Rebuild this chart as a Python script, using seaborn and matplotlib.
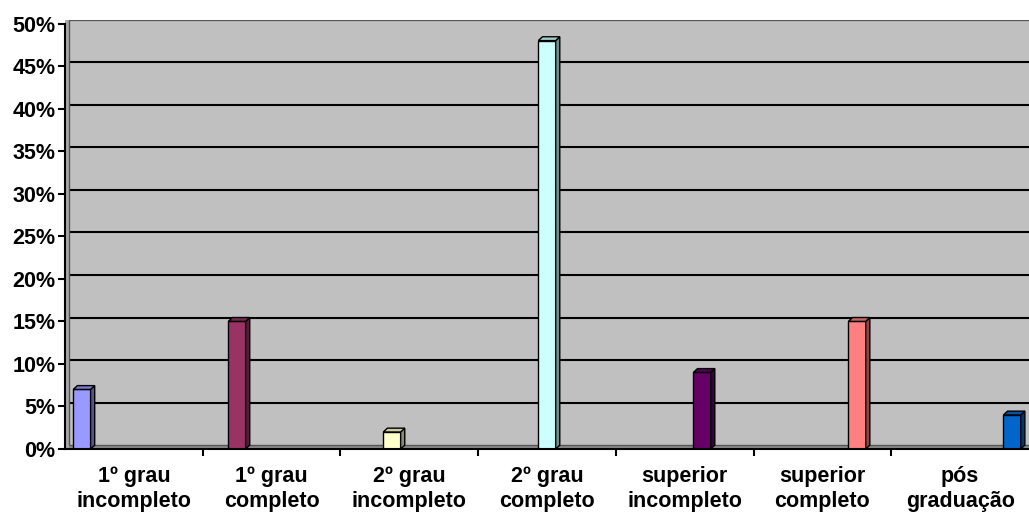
import matplotlib
matplotlib.use("Agg")
import matplotlib.pyplot as plt
import seaborn as sns
import pandas as pd
import numpy as np
from matplotlib.patches import Polygon
import matplotlib.colors as mcolors

categories = ["1º grau\nincompleto", "1º grau\ncompleto", "2º grau\nincompleto",
              "2º grau\ncompleto", "superior\nincompleto", "superior\ncompleto",
              "pós\ngraduação"]
values = [7, 15, 2, 48, 9, 15, 4]
colors = ["#9999FF", "#993366", "#FFFFCC", "#CCFFFF", "#660066", "#FF8080", "#0066CC"]
yticks = [0, 5, 10, 15, 20, 25, 30, 35, 40, 45, 50]

sns.set_style("white")
plt.rcParams['font.family'] = ['Liberation Sans', 'DejaVu Sans']
plt.rcParams['font.weight'] = 'bold'
plt.rcParams['text.color'] = 'black'
plt.rcParams['xtick.color'] = 'black'
plt.rcParams['ytick.color'] = 'black'
plt.rcParams['xtick.labelcolor'] = 'black'
plt.rcParams['ytick.labelcolor'] = 'black'

df = pd.DataFrame({"cat": categories, "val": values})

fig = plt.figure(figsize=(10.29, 5.13), dpi=100)
ax = fig.add_axes([65/1029, (513-449)/513, 1 - 65/1029, (449-19.75)/513])
ax.set_facecolor("#C0C0C0")

dx, dy = 0.03, 0.45

sns.barplot(data=df, x="cat", y="val", hue="cat", hue_order=categories,
            order=categories, palette=colors, saturation=1, dodge=True, width=0.88, gap=0,
            edgecolor="black", linewidth=1, legend=False, ax=ax, zorder=3)

ax.set_xlim(-0.5, 6.5)
ax.set_ylim(0, 50 + dy)

# back-wall gridlines
for t in yticks[1:]:
    ax.hlines(t + dy, -0.5 + dx, 6.5, color="black", lw=1.5, zorder=1)
# floor
ax.fill_between([-0.5, 6.5], 0, dy, color="#8a8a8a", zorder=1.5, lw=0)
ax.hlines(dy, -0.5 + dx, 6.5, color="#555555", lw=1, zorder=1.6)
# left wall
ax.fill_betweenx([0, 50 + dy], -0.5, -0.5 + dx, color="#a8a8a8", zorder=1.5, lw=0)
ax.vlines(-0.5 + dx, dy, 50 + dy, color="#555555", lw=1, zorder=1.6)
ax.hlines(50 + dy, -0.5 + dx, 6.5, color="#555555", lw=1.5, zorder=1.6)

# 3D faces on bars
for p in list(ax.patches):
    h = p.get_height()
    if not np.isfinite(h) or h <= 0:
        continue
    x, w = p.get_x(), p.get_width()
    fc = np.array(mcolors.to_rgb(p.get_facecolor()))
    side = Polygon([(x + w, 0), (x + w + dx, dy), (x + w + dx, h + dy), (x + w, h)],
                   closed=True, facecolor=fc * 0.55, edgecolor="black", lw=1, zorder=3)
    top = Polygon([(x, h), (x + dx, h + dy), (x + w + dx, h + dy), (x + w, h)],
                  closed=True, facecolor=fc * 0.8, edgecolor="black", lw=1, zorder=3)
    ax.add_patch(side)
    ax.add_patch(top)

for s in ["top", "right"]:
    ax.spines[s].set_visible(False)
ax.spines["left"].set_color("black")
ax.spines["left"].set_linewidth(1.5)
ax.spines["left"].set_bounds(0, 50)
ax.spines["bottom"].set_color("black")
ax.spines["bottom"].set_linewidth(1.5)
ax.spines["left"].set_zorder(5)
ax.spines["bottom"].set_zorder(5)

ax.set_yticks(yticks)
ax.set_yticklabels([f"{t}%" for t in yticks], fontsize=15.5, fontweight="bold", color="black")
ax.tick_params(axis="y", direction="out", length=5, width=1.5, color="black", pad=2, left=True)

ax.set_xticks(range(len(categories)))
ax.set_xticklabels(categories, fontsize=15.5, fontweight="bold", linespacing=1.3, color="black")
ax.set_xticks(np.arange(0.5, 6.5, 1), minor=True)
ax.tick_params(axis="x", which="major", length=0, pad=12)
ax.tick_params(axis="x", which="minor", direction="out", length=5, width=1.5, color="black", bottom=True)

ax.set_xlabel("")
ax.set_ylabel("")

fig.savefig("out.png", dpi=100)
